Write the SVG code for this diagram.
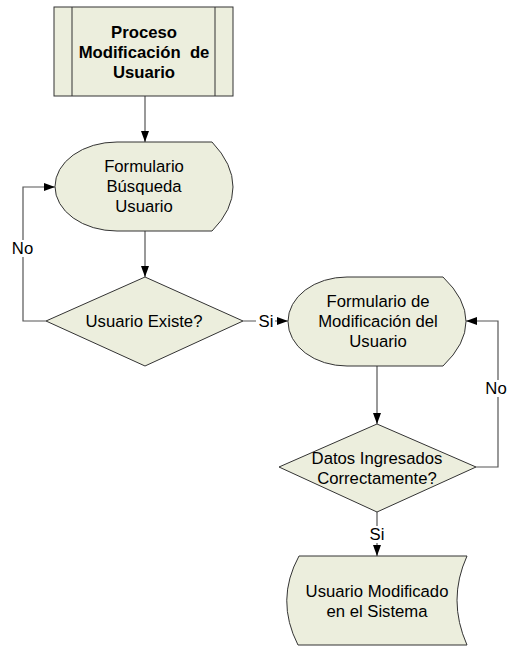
<svg xmlns="http://www.w3.org/2000/svg" width="507" height="646" viewBox="0 0 507 646">
  <defs>
    <marker id="arrow" viewBox="0 0 11 8" refX="11" refY="4" markerWidth="11" markerHeight="8" markerUnits="userSpaceOnUse" orient="auto">
      <path d="M0,0 L11,4 L0,8 Z" fill="#000"/>
    </marker>
    <style>
      .shape { fill: #ECEEDD; stroke: #333; stroke-width: 1; }
      .inner { fill: none; stroke: #333; stroke-width: 1; }
      .conn { fill: none; stroke: #555; stroke-width: 1.2; }
      .arrowed { marker-end: url(#arrow); }
      text { font-family: "Liberation Sans", Arial, sans-serif; font-size: 16.7px; fill: #000; text-anchor: middle; }
      .bold { font-weight: bold; }
      .lbl-bg { fill: #fff; }
    </style>
  </defs>
  <rect width="507" height="646" fill="#fff"/>

  <!-- connectors -->
  <g id="connectors">
    <path class="conn arrowed" d="M145,96 L145,142"/>
    <path class="conn arrowed" d="M145,231 L145,277"/>
    <path class="conn arrowed" d="M46,321 L23,321 L23,187 L55,187"/>
    <path class="conn arrowed" d="M243,321 L288,321"/>
    <path class="conn arrowed" d="M377,366 L377,424"/>
    <path class="conn arrowed" d="M476,467 L498,467 L498,321 L466,321"/>
    <path class="conn arrowed" d="M377,512 L377,556"/>
    <!-- connector labels -->
    <rect class="lbl-bg" x="10" y="240" width="25" height="17"/>
    <text x="22.5" y="254">No</text>
    <rect class="lbl-bg" x="256" y="313" width="19" height="17"/>
    <text x="266" y="327">Si</text>
    <rect class="lbl-bg" x="485" y="380" width="22" height="17"/>
    <text x="496" y="394">No</text>
    <rect class="lbl-bg" x="368" y="526" width="19" height="17"/>
    <text x="377" y="540">Si</text>
  </g>

  <!-- predefined process -->
  <g id="proceso">
    <rect class="shape" x="54" y="7" width="179" height="89"/>
    <line class="inner" x1="72" y1="7" x2="72" y2="96"/>
    <line class="inner" x1="215" y1="7" x2="215" y2="96"/>
    <text class="bold" x="144" y="38">Proceso</text>
    <text class="bold" x="144" y="58" xml:space="preserve">Modificación  de</text>
    <text class="bold" x="144" y="78">Usuario</text>
  </g>

  <!-- display: search form -->
  <g id="formulario-busqueda">
    <path class="shape" d="M117,142 L212,142 Q233,164 233,187 Q233,210 212,231 L117,231 A62,44.5 0 0 1 117,142 Z"/>
    <text x="144" y="172">Formulario</text>
    <text x="144" y="192">Búsqueda</text>
    <text x="144" y="212">Usuario</text>
  </g>

  <!-- decision: user exists -->
  <g id="usuario-existe">
    <polygon class="shape" points="145,277 243,321 145,366 46,321"/>
    <text x="144" y="327">Usuario Existe?</text>
  </g>

  <!-- display: modification form -->
  <g id="formulario-modificacion">
    <path class="shape" d="M347,277 L443,277 Q466,299 466,321.5 Q466,344 443,366 L347,366 A59,44.5 0 0 1 347,277 Z"/>
    <text x="378" y="307">Formulario de</text>
    <text x="378" y="327">Modificación del</text>
    <text x="378" y="347">Usuario</text>
  </g>

  <!-- decision: data entered correctly -->
  <g id="datos-correctos">
    <polygon class="shape" points="377,424 476,467 377,512 279,467"/>
    <text x="377" y="464">Datos Ingresados</text>
    <text x="377" y="484">Correctamente?</text>
  </g>

  <!-- stored data: modified user -->
  <g id="usuario-modificado">
    <path class="shape" d="M299,556 L467,556 Q447,600 467,645 L298,645 Q275,600 299,556 Z"/>
    <text x="377" y="597">Usuario Modificado</text>
    <text x="377" y="617">en el Sistema</text>
  </g>
</svg>
